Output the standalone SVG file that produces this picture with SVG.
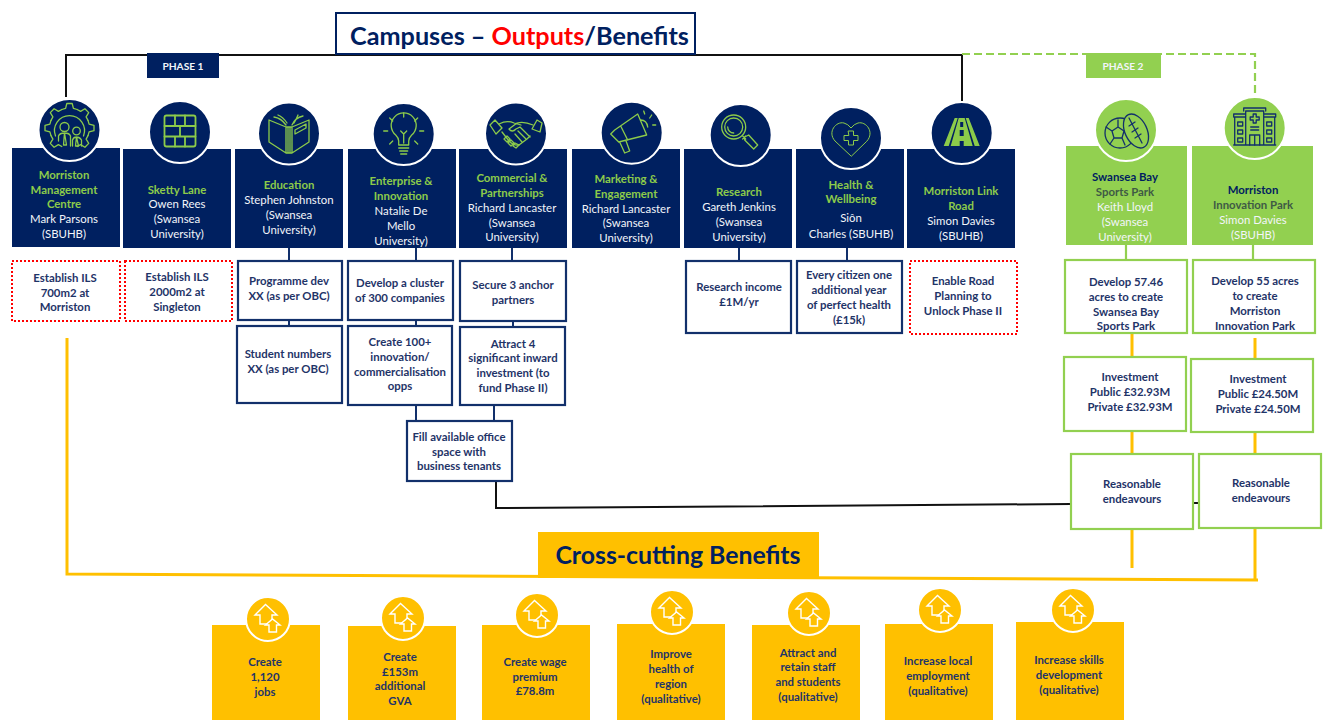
<svg xmlns="http://www.w3.org/2000/svg" xmlns:xlink="http://www.w3.org/1999/xlink" width="1327" height="720" viewBox="0 0 1327 720">
<style>
text{font-family:"Lato","Liberation Sans",sans-serif;font-size:11.4px;text-anchor:middle}
.b{font-weight:700}
.g{fill:#8CCB4A;font-weight:700}
.w{fill:#F2F5FA}
.n{fill:#1F3468;font-weight:700}
.navy{fill:#002060}
.lime{fill:#92D050}
.gold{fill:#FFC000}
.ring{stroke:#fff;stroke-width:2}
.out{fill:#fff;stroke:#12306B;stroke-width:2.2}
.outg{fill:#fff;stroke:#92D050;stroke-width:2.2}
.red{fill:#fff;stroke:#FF0000;stroke-width:2;stroke-dasharray:2 2}
.ic{fill:none;stroke:#8CCB4A;stroke-width:1.3;stroke-linejoin:round;stroke-linecap:round}
.id{fill:none;stroke:#12306B;stroke-width:1.3;stroke-linejoin:round;stroke-linecap:round}
.k{fill:none;stroke:#111;stroke-width:2}
.bl{fill:none;stroke:#12306B;stroke-width:2}
.y{fill:none;stroke:#FFC000;stroke-width:3}
.lg{fill:none;stroke:#92D050;stroke-width:2.2}
</style>
<defs>
<path id="gs" d="M-7.65-18.5L-3.9-19.6L-2.7-24.5H2.7L3.9-19.6L7.65-18.5"/>
<g id="up" fill="none" stroke="#fff" stroke-width="1.4" stroke-linejoin="miter">
<path d="M-13-4L-2.500-14.500L9-4H4V5H-8V-4Z"/>
<path d="M-2.500 6L4.500 0L12 6H8.500V13H1V6Z" fill="#FFC000"/>
</g>
</defs>

<g id="connectors">
<path class="k" d="M66 97V55H962V101"/>
<path class="lg" stroke-dasharray="8 4" d="M962 54H1255V96"/>
<path class="bl" d="M289 248V261M289 320V326M416 248V261M416 320V326M416 405V421M512 248V261M513 321V327M494 405V421M739 248V261M847 248V261"/>
<path class="lg" d="M1126 245V260M1253 245V260"/>
<path class="y" d="M67 338V574L1258 580M1255 528V580M1132 333V357M1132 431V454M1132 529V568M1255 338V359M1255 432V454"/>
<path class="k" d="M496 481V508L1071 504M1193 503H1199"/>
</g>

<g id="title">
<rect x="336" y="13" width="359" height="41" fill="#fff" stroke="#002060" stroke-width="2"/>
<text x="519.500" y="45" class="b" style="font-size:25.200px" fill="#002060">Campuses – <tspan fill="#FF0000">Outputs</tspan>/Benefits</text>
</g>
<g id="phase1"><rect class="navy" x="147" y="53" width="72" height="25"/><text x="183" y="70" class="b w" style="font-size:10.200px">PHASE 1</text></g>
<g id="phase2"><rect class="lime" x="1086" y="53" width="75" height="25"/><text x="1123" y="70" class="b w" style="font-size:10.200px">PHASE 2</text></g>

<g id="node-morriston-management">
<rect class="navy" x="12" y="148" width="108" height="99"/>
<circle class="navy ring" cx="69.500" cy="130" r="31"/>
<g class="ic" transform="translate(69.500,128)">
<use href="#gs"/><use href="#gs" transform="rotate(45)"/><use href="#gs" transform="rotate(90)"/><use href="#gs" transform="rotate(135)"/><use href="#gs" transform="rotate(225)"/><use href="#gs" transform="rotate(270)"/><use href="#gs" transform="rotate(315)"/>
<path d="M-14 8A15 15 0 1 1 14 8"/>
<circle cx="-5" cy="-1" r="4.500"/><circle cx="7" cy="3" r="3.800"/>
<path d="M-11 13V8Q-10 5-5 5T1 8V18M3 18V12Q4 9 7 9T12 12V18M-5 5L-6 17H-3ZM7 9L6 18H9Z"/>
</g>
<text class="g" x="64" y="179">Morriston</text><text class="g" x="64" y="194">Management</text><text class="g" x="64" y="208">Centre</text>
<text class="w" x="64" y="223">Mark Parsons</text><text class="w" x="64" y="238">(SBUHB)</text>
</g>

<g id="node-sketty-lane">
<rect class="navy" x="123" y="149" width="108" height="99"/>
<circle class="navy ring" cx="180" cy="132" r="31"/>
<g class="ic" style="stroke-width:1.800" transform="translate(180,131)">
<rect x="-15.500" y="-15.500" width="31" height="31" rx="2"/>
<path d="M-15.500-5H15.500M-15.500 5.500H15.500M-5-15.500V-5M5-15.500V-5M0-5V5.500M-5 5.500V15.500M5 5.500V15.500"/>
</g>
<text class="g" x="177" y="194">Sketty Lane</text><text class="w" x="177" y="208">Owen Rees</text><text class="w" x="177" y="223">(Swansea</text><text class="w" x="177" y="238">University)</text>
</g>

<g id="node-education">
<rect class="navy" x="235" y="149" width="108" height="99"/>
<circle class="navy ring" cx="289" cy="133.500" r="31"/>
<g class="ic" transform="translate(289,133)">
<path d="M-20-13L-3-6V20L-20 9ZM20-13L3-6V20L20 9ZM-3-6H3M-3 20H3M-1-6V20M1-6V20"/>
<path d="M-15-16Q-8-15-3-8M14-17Q6-15 3-8M-11-18Q-6-16-2-10M5-10Q8-15 9-18"/>
<path d="M6-3L17-9V-5L6 1Z"/>
</g>
<text class="g" x="289" y="189">Education</text><text class="w" x="289" y="204">Stephen Johnston</text><text class="w" x="289" y="219">(Swansea</text><text class="w" x="289" y="234">University)</text>
</g>

<g id="node-enterprise">
<rect class="navy" x="348" y="149" width="108" height="99"/>
<circle class="navy ring" cx="403.700" cy="134" r="31"/>
<g class="ic" transform="translate(403.700,133)">
<path d="M-5 12V8Q-5 5-8 2A12.500 12.500 0 1 1 8 2Q5 5 5 8V12ZM-5 15H5M-4 18H4M-3 21H3M0 10V1M-3-2L0 1L3-2"/>
<path d="M0-20V-16M-14-15L-11-12M14-15L11-12M-20-2H-16M20-2H16M-14 11L-11 8M14 11L11 8"/>
</g>
<text class="g" x="401" y="185">Enterprise &amp;</text><text class="g" x="401" y="200">Innovation</text><text class="w" x="401" y="215">Natalie De</text><text class="w" x="401" y="230">Mello</text><text class="w" x="401" y="245">University)</text>
</g>

<g id="node-commercial">
<rect class="navy" x="459" y="149" width="108" height="99"/>
<circle class="navy ring" cx="516" cy="133.500" r="31"/>
<g class="ic" transform="translate(516,132)">
<path d="M-26-7L-21-12L-14-4L-20 2ZM26-9L21-12L16-3L24 0Z"/>
<path d="M-17-8Q-9-12-2-9L5-7M17-7Q8-11 1-9L-7-3Q-4 1 0-3L4-5L14 5M-14 0L-7 9Q-2 14 3 13L11 7L14 4"/>
<path d="M-9 4L-12 7L-9 10L-6 7ZM-5 8L-8 11L-5 14L-2 11ZM-1 11L-3 14L0 16L3 13ZM2-1L10 7M-1 2L6 10"/>
</g>
<text class="g" x="512" y="182">Commercial &amp;</text><text class="g" x="512" y="197">Partnerships</text><text class="w" x="512" y="212">Richard Lancaster</text><text class="w" x="512" y="227">(Swansea</text><text class="w" x="512" y="241">University)</text>
</g>

<g id="node-marketing">
<rect class="navy" x="572" y="149" width="108" height="99"/>
<circle class="navy ring" cx="631.700" cy="132.700" r="31"/>
<g class="ic" transform="translate(631.700,132)">
<path d="M-21 2L-17-2L6-18L15 3L-13 10ZM-11-6L-4 8M-12 10L-7 21L-2 19L-6 8M9-12Q15-12 16-5"/>
<path d="M13-18L12-21M18-14L20-17M21-7L24-7"/>
</g>
<text class="g" x="626" y="183">Marketing &amp;</text><text class="g" x="626" y="198">Engagement</text><text class="w" x="626" y="213">Richard Lancaster</text><text class="w" x="626" y="227">(Swansea</text><text class="w" x="626" y="242">University)</text>
</g>

<g id="node-research">
<rect class="navy" x="684" y="149" width="108" height="99"/>
<circle class="navy ring" cx="740.700" cy="135" r="31"/>
<g class="ic" transform="translate(740.700,134)">
<circle cx="-7" cy="-7" r="12"/><circle cx="-7" cy="-7" r="9"/>
<path d="M-13-7A6 6 0 0 0-7-1M2 2L5 5M5 2L2 5M4 3L8 1L17 11L13 15L4 6Z"/>
</g>
<text class="g" x="739" y="196">Research</text><text class="w" x="739" y="211">Gareth Jenkins</text><text class="w" x="739" y="226">(Swansea</text><text class="w" x="739" y="241">University)</text>
</g>

<g id="node-health">
<rect class="navy" x="796" y="149" width="108" height="99"/>
<circle class="navy ring" cx="851" cy="138" r="31"/>
<g class="ic" style="stroke-width:1" transform="translate(851,138)">
<path d="M0 18L-16 3C-24-6-15-17-7-15Q-3-14 0-10Q3-14 7-15C15-17 24-6 16 3Z"/>
<path d="M-2.500-7H2.500V-2.500H7V2.500H2.500V7H-2.500V2.500H-7V-2.500H-2.500Z"/>
</g>
<text class="g" x="851" y="189">Health &amp;</text><text class="g" x="851" y="203">Wellbeing</text><text class="w" x="851" y="222">Siôn</text><text class="w" x="851" y="238">Charles (SBUHB)</text>
</g>

<g id="node-link-road">
<rect class="navy" x="907" y="149" width="108" height="99"/>
<circle class="navy ring" cx="961.700" cy="133" r="31"/>
<g transform="translate(961.700,133)" fill="#8CCB4A">
<path d="M-7-15H-4L-13 13H-18ZM4-15H7L18 13H13ZM-3-15H3L11 13H2V8H-2V13H-11ZM-1.500-11V-6H1.500V-11ZM-2-3V3H2V-3Z" fill-rule="evenodd"/>
</g>
<text class="g" x="961" y="195">Morriston Link</text><text class="g" x="961" y="210">Road</text><text class="w" x="961" y="225">Simon Davies</text><text class="w" x="961" y="240">(SBUHB)</text>
</g>

<g id="node-sports-park">
<rect class="lime" x="1066" y="146" width="121" height="99"/>
<circle class="lime ring" cx="1126" cy="130" r="31"/>
<g class="id" transform="translate(1126,130)">
<circle cx="-6" cy="3" r="15"/>
<path d="M-8-3L-2 1L-4 8H-12L-14 1ZM-8-3V-10M-14 1L-20-3M-12 8L-16 14M-4 8L-1 15"/>
<ellipse cx="10" cy="1" rx="11" ry="18" transform="rotate(-25 10 1)" fill="#92D050"/>
<path d="M3-12L16 13M3-4L9-8M6 2L12-2M9 8L15 4"/>
</g>
<text class="n" x="1125" y="181" style="fill:#002060">Swansea Bay</text><text class="b" fill="#3F5A45" x="1125" y="196">Sports Park</text><text class="w" x="1125" y="211">Keith Lloyd</text><text class="w" x="1125" y="226">(Swansea</text><text class="w" x="1125" y="241">University)</text>
</g>

<g id="node-innovation-park">
<rect class="lime" x="1192" y="146" width="121" height="99"/>
<circle class="lime ring" cx="1254.700" cy="128" r="31"/>
<g class="id" transform="translate(1254.700,128)">
<path d="M-9 17V-17H9V17ZM-11-17V-20H11V-17M-9-11H-20V17H20V-11H9M-21-11V-14H-9M21-11V-14H9M-21 17H21"/>
<path d="M-1.500-14H1.500V-11H4.500V-8H1.500V-5H-1.500V-8H-4.500V-11H-1.500ZM-4-1H4M-4 2H4M-5 17V7H5V17M0 7V17"/>
<path d="M-17-6H-12V-2H-17ZM-17 2H-12V6H-17ZM-17 10H-12V14H-17ZM12-6H17V-2H12ZM12 2H17V6H12ZM12 10H17V14H12Z"/>
</g>
<text class="n" x="1253" y="194" style="fill:#002060">Morriston</text><text class="b" fill="#3F5A45" x="1253" y="209">Innovation Park</text><text class="w" x="1253" y="224">Simon Davies</text><text class="w" x="1253" y="239">(SBUHB)</text>
</g>

<g id="out-ils-morriston"><rect class="red" x="12" y="261" width="108" height="60"/><text class="n" x="65" y="282">Establish ILS</text><text class="n" x="65" y="297">700m2 at</text><text class="n" x="65" y="311">Morriston</text></g>
<g id="out-ils-singleton"><rect class="red" x="125" y="261" width="107" height="60"/><text class="n" x="177" y="281">Establish ILS</text><text class="n" x="177" y="296">2000m2 at</text><text class="n" x="177" y="311">Singleton</text></g>
<g id="out-programme"><rect class="out" x="238" y="261" width="104" height="59"/><text class="n" x="289" y="285">Programme dev</text><text class="n" x="289" y="300">XX (as per OBC)</text></g>
<g id="out-students"><rect class="out" x="237" y="326" width="105" height="77"/><text class="n" x="288" y="358">Student numbers</text><text class="n" x="288" y="373">XX (as per OBC)</text></g>
<g id="out-cluster"><rect class="out" x="348" y="261" width="105" height="59"/><text class="n" x="400" y="287">Develop a cluster</text><text class="n" x="400" y="302">of 300 companies</text></g>
<g id="out-innovation"><rect class="out" x="348" y="326" width="104" height="79"/><text class="n" x="400" y="346">Create 100+</text><text class="n" x="400" y="361">innovation/</text><text class="n" x="400" y="376">commercialisation</text><text class="n" x="400" y="390">opps</text></g>
<g id="out-anchor"><rect class="out" x="460" y="261" width="106" height="60"/><text class="n" x="513" y="289">Secure 3 anchor</text><text class="n" x="513" y="304">partners</text></g>
<g id="out-inward"><rect class="out" x="460" y="327" width="105" height="78"/><text class="n" x="513" y="348">Attract 4</text><text class="n" x="513" y="362">significant inward</text><text class="n" x="513" y="377">investment (to</text><text class="n" x="513" y="392">fund Phase II)</text></g>
<g id="out-office"><rect class="out" x="407" y="421" width="105" height="60"/><text class="n" x="459" y="441">Fill available office</text><text class="n" x="459" y="456">space with</text><text class="n" x="459" y="470">business tenants</text></g>
<g id="out-research"><rect class="out" x="686" y="261" width="105" height="72"/><text class="n" x="739" y="291">Research income</text><text class="n" x="739" y="306">£1M/yr</text></g>
<g id="out-health"><rect class="out" x="797" y="261" width="105" height="72"/><text class="n" x="849" y="279">Every citizen one</text><text class="n" x="849" y="294">additional year</text><text class="n" x="849" y="309">of perfect health</text><text class="n" x="849" y="324">(£15k)</text></g>
<g id="out-road"><rect class="red" x="910" y="261" width="107" height="73"/><text class="n" x="963" y="285">Enable Road</text><text class="n" x="963" y="300">Planning to</text><text class="n" x="963" y="315">Unlock Phase II</text></g>

<g id="out-sports"><rect class="outg" x="1065" y="260" width="122" height="73"/><text class="n" x="1126" y="286">Develop 57.46</text><text class="n" x="1126" y="301">acres to create</text><text class="n" x="1126" y="316">Swansea Bay</text><text class="n" x="1126" y="330">Sports Park</text></g>
<g id="out-morriston"><rect class="outg" x="1193" y="260" width="122" height="73"/><text class="n" x="1255" y="285">Develop 55 acres</text><text class="n" x="1255" y="300">to create</text><text class="n" x="1255" y="315">Morriston</text><text class="n" x="1255" y="330">Innovation Park</text></g>
<g id="inv-sports"><rect class="outg" x="1064" y="357" width="122" height="74"/><text class="n" x="1130" y="381">Investment</text><text class="n" x="1130" y="396">Public £32.93M</text><text class="n" x="1130" y="411">Private £32.93M</text></g>
<g id="inv-morriston"><rect class="outg" x="1191" y="359" width="122" height="73"/><text class="n" x="1258" y="383">Investment</text><text class="n" x="1258" y="398">Public £24.50M</text><text class="n" x="1258" y="413">Private £24.50M</text></g>
<g id="re-sports"><rect class="outg" x="1071" y="454" width="122" height="75"/><text class="n" x="1132" y="488">Reasonable</text><text class="n" x="1132" y="503">endeavours</text></g>
<g id="re-morriston"><rect class="outg" x="1199" y="454" width="122" height="74"/><text class="n" x="1261" y="487">Reasonable</text><text class="n" x="1261" y="502">endeavours</text></g>

<g id="cross-cutting"><rect class="gold" x="538" y="532" width="281" height="46"/><text x="678" y="564" class="b" style="font-size:24.800px" fill="#002060">Cross-cutting Benefits</text></g>

<g id="ben-jobs"><rect class="gold" x="212" y="625" width="108" height="95"/><circle class="gold ring" cx="268" cy="619" r="22"/><use href="#up" x="268" y="619"/><text class="n" x="265" y="666">Create</text><text class="n" x="265" y="681">1,120</text><text class="n" x="265" y="696">jobs</text></g>
<g id="ben-gva"><rect class="gold" x="348" y="626" width="108" height="94"/><circle class="gold ring" cx="403" cy="618" r="22"/><use href="#up" x="403" y="618"/><text class="n" x="400" y="661">Create</text><text class="n" x="400" y="676">£153m</text><text class="n" x="400" y="690">additional</text><text class="n" x="400" y="705">GVA</text></g>
<g id="ben-wage"><rect class="gold" x="482" y="625" width="108" height="95"/><circle class="gold ring" cx="537" cy="615" r="22"/><use href="#up" x="537" y="615"/><text class="n" x="535" y="666">Create wage</text><text class="n" x="535" y="681">premium</text><text class="n" x="535" y="695">£78.8m</text></g>
<g id="ben-health"><rect class="gold" x="617" y="624" width="108" height="96"/><circle class="gold ring" cx="672" cy="612" r="22"/><use href="#up" x="672" y="612"/><text class="n" x="671" y="658">Improve</text><text class="n" x="671" y="673">health of</text><text class="n" x="671" y="688">region</text><text class="n" x="671" y="703">(qualitative)</text></g>
<g id="ben-staff"><rect class="gold" x="752" y="625" width="108" height="95"/><circle class="gold ring" cx="809" cy="613" r="22"/><use href="#up" x="809" y="613"/><text class="n" x="808" y="657">Attract and</text><text class="n" x="808" y="671">retain staff</text><text class="n" x="808" y="686">and students</text><text class="n" x="808" y="701">(qualitative)</text></g>
<g id="ben-employment"><rect class="gold" x="885" y="624" width="108" height="96"/><circle class="gold ring" cx="940" cy="610" r="22"/><use href="#up" x="940" y="610"/><text class="n" x="938" y="665">Increase local</text><text class="n" x="938" y="680">employment</text><text class="n" x="938" y="695">(qualitative)</text></g>
<g id="ben-skills"><rect class="gold" x="1016" y="622" width="108" height="98"/><circle class="gold ring" cx="1073" cy="610" r="22"/><use href="#up" x="1073" y="610"/><text class="n" x="1069" y="664">Increase skills</text><text class="n" x="1069" y="679">development</text><text class="n" x="1069" y="694">(qualitative)</text></g>
</svg>
